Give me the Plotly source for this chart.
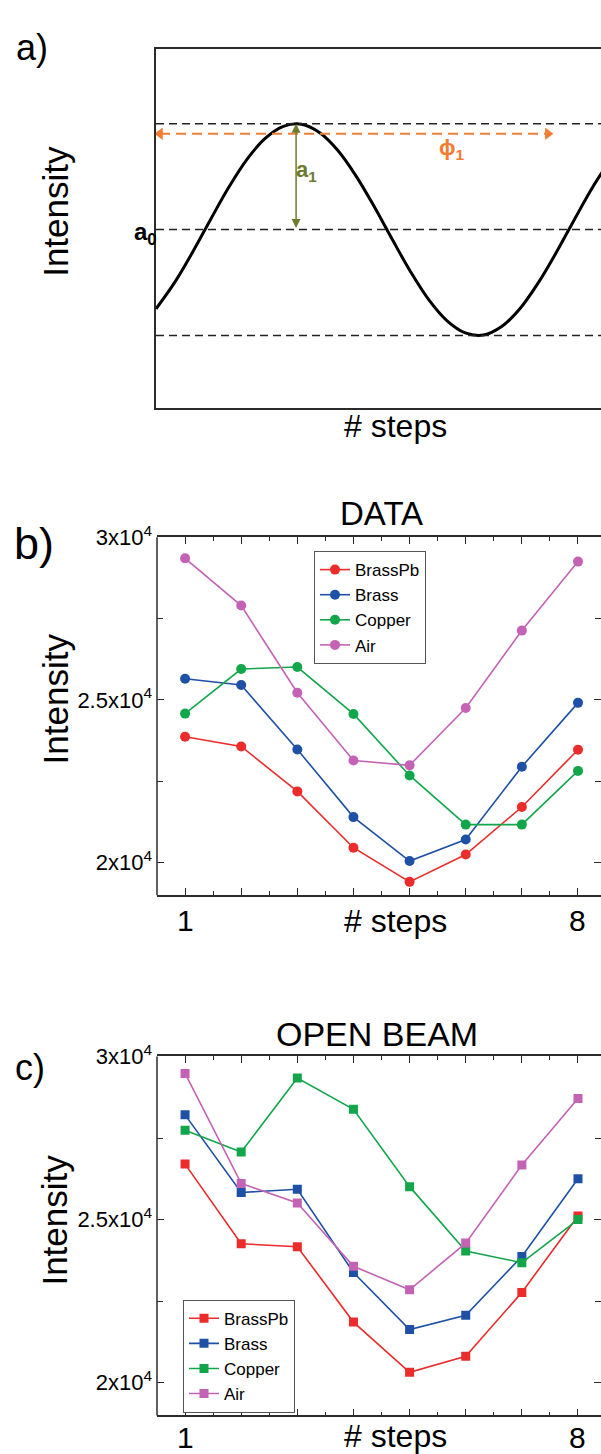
import plotly.graph_objects as go

FONT = "Liberation Sans, Arial, sans-serif"
W, H = 601, 1454

# ---------------- Panel a: schematic phase-stepping curve ----------------
a_steps = [0, 0.5, 1, 1.5, 2, 2.5, 3, 3.5, 4, 4.5, 5, 5.5, 6, 6.5, 7, 7.5, 8,
           8.5, 9, 9.5, 10, 10.5, 11, 11.5, 12, 12.5]
a_intensity = [0.626, 0.747, 0.892, 1.048, 1.200, 1.332, 1.431, 1.488, 1.498,
               1.458, 1.374, 1.253, 1.108, 0.952, 0.800, 0.668, 0.569, 0.512,
               0.502, 0.542, 0.626, 0.747, 0.892, 1.048, 1.200, 1.332]
a_levels = [1.5, 1.0, 0.5]          # maximum, a0 (mean), minimum
a_peak_step = 3.85                  # position of the a1 arrow
phi_steps = [0.11, 10.77]           # extent of the phi1 arrow
phi_level = [1.453, 1.453]

# ---------------- Panels b and c ----------------
steps = [1, 2, 3, 4, 5, 6, 7, 8]
series_names = ["BrassPb", "Brass", "Copper", "Air"]
series_colors = ["#EC2B2B", "#1E50A6", "#12A64B", "#C463B5"]

data_brasspb = [23870, 23570, 22190, 20460, 19410, 20250, 21710, 23470]
data_brass = [25650, 25460, 23480, 21400, 20050, 20710, 22950, 24910]
data_copper = [24580, 25950, 26010, 24570, 22680, 21170, 21170, 22820]
data_air = [29350, 27900, 25220, 23140, 22990, 24750, 27130, 29250]

open_brasspb = [26700, 24260, 24170, 21860, 20320, 20810, 22770, 25110]
open_brass = [28210, 25830, 25930, 23380, 21630, 22070, 23870, 26250]
open_copper = [27740, 27070, 29340, 28380, 26010, 24040, 23680, 25000]
open_air = [29480, 26110, 25510, 23570, 22850, 24280, 26670, 28710]

y_tickvals = [20000, 25000, 30000]
y_ticktext = ["2x10<sup>4</sup>", "2.5x10<sup>4</sup>", "3x10<sup>4</sup>"]
y_minor = [22500, 27500]
x_minor = [1.5, 2.5, 3.5, 4.5, 5.5, 6.5, 7.5]
x_labelled = [1, 8]


def px(x):
    return x / W


def py(y):
    return 1 - y / H


AX = "#2b2b2b"
fig = go.Figure()

# panel a traces
fig.add_trace(go.Scatter(x=a_steps, y=a_intensity, mode="lines", line=dict(color="black", width=3, shape="spline"),
                         xaxis="x", yaxis="y", showlegend=False, hoverinfo="skip"))
fig.add_trace(go.Scatter(x=phi_steps, y=phi_level, mode="lines+markers",
                         line=dict(color="#F47C32", width=2, dash="10px,6px"),
                         marker=dict(symbol=["triangle-left", "triangle-right"], size=11, color="#F47C32"),
                         xaxis="x", yaxis="y", showlegend=False, hoverinfo="skip"))

# panel b / c traces
b_sets = [data_brasspb, data_brass, data_copper, data_air]
c_sets = [open_brasspb, open_brass, open_copper, open_air]
for name, col, vals in zip(series_names, series_colors, b_sets):
    fig.add_trace(go.Scatter(x=steps, y=vals, name=name, mode="lines+markers",
                             line=dict(color=col, width=1.6), marker=dict(symbol="circle", size=10, color=col),
                             xaxis="x2", yaxis="y2", legend="legend"))
for name, col, vals in zip(series_names, series_colors, c_sets):
    fig.add_trace(go.Scatter(x=steps, y=vals, name=name, mode="lines+markers",
                             line=dict(color=col, width=1.6), marker=dict(symbol="square", size=9, color=col),
                             xaxis="x3", yaxis="y3", legend="legend2"))

common_x = dict(showline=True, mirror="ticks", linecolor=AX, linewidth=1.5, showgrid=False, zeroline=False,
                range=[0.5, 8.41], tickvals=steps, showticklabels=False, ticks="inside", ticklen=7,
                tickwidth=1.3, tickcolor=AX,
                minor=dict(tickvals=x_minor, ticks="inside", ticklen=4, tickwidth=1.2, tickcolor=AX))
common_y = dict(showline=False, mirror="ticks", showgrid=False, zeroline=False, range=[19000, 30000],
                tickvals=y_tickvals, ticktext=y_ticktext, ticks="inside", ticklen=7, tickwidth=1.3,
                tickcolor=AX, ticklabelstandoff=4, tickfont=dict(family=FONT, size=22, color="black"),
                minor=dict(tickvals=y_minor, ticks="inside", ticklen=6, tickwidth=1.2, tickcolor=AX))

legend_common = dict(xanchor="left", yanchor="top", bgcolor="white", bordercolor="#555", borderwidth=1,
                     font=dict(family=FONT, size=17, color="black"), tracegroupgap=0, itemwidth=30)

fig.update_layout(
    width=W, height=H, margin=dict(l=0, r=0, t=0, b=0),
    paper_bgcolor="white", plot_bgcolor="white",
    font=dict(family=FONT, color="black"),
    xaxis=dict(domain=[px(156), 1], range=[0, 12.23], showline=True, mirror=True, linecolor=AX, linewidth=1.5,
               showticklabels=False, ticks="", showgrid=False, zeroline=False, anchor="y"),
    yaxis=dict(domain=[py(396), py(33)], range=[0.159, 1.855], showline=True, mirror=False, linecolor=AX,
               linewidth=1.5, showticklabels=False, ticks="", showgrid=False, zeroline=False, anchor="x"),
    xaxis2=dict(domain=[px(157), 1], anchor="y2", **common_x),
    yaxis2=dict(domain=[py(889), py(527)], anchor="x2", **common_y),
    xaxis3=dict(domain=[px(157), 1], anchor="y3", **common_x),
    yaxis3=dict(domain=[py(1415), py(1052)], anchor="x3", **common_y),
    legend=dict(x=px(314), y=py(541), **legend_common),
    legend2=dict(x=px(183), y=py(1298), **legend_common),
)

shapes = []
for lvl in a_levels:
    shapes.append(dict(type="line", xref="x domain", x0=0, x1=1, yref="y", y0=lvl, y1=lvl,
                       line=dict(color="#222", width=1.5, dash="8px,5px")))
for xr, yr in (("x2", "y2"), ("x3", "y3")):
    shapes.append(dict(type="line", xref=xr + " domain", x0=0, x1=0, yref=yr + " domain", y0=0, y1=1,
                       line=dict(color=AX, width=1.5)))
fig.update_layout(shapes=shapes)

ann = []
# a1 double arrow
ann.append(dict(x=a_peak_step, y=a_levels[0], ax=a_peak_step, ay=a_levels[1], xref="x", yref="y",
                axref="x", ayref="y", text="", showarrow=True, arrowside="end+start", arrowhead=2,
                arrowsize=1.2, arrowwidth=1.5, arrowcolor="#6E7B2E", standoff=0, startstandoff=0))


def label(x, y, text, size, color="black", angle=0, xanchor="center"):
    ann.append(dict(x=px(x), y=py(y), xref="paper", yref="paper", text=text, showarrow=False,
                    font=dict(family=FONT, size=size, color=color), textangle=angle,
                    xanchor=xanchor, yanchor="middle"))


label(306, 157, "<b>a<sub>1</sub></b>", 22, "#6E7B2E")
label(452, 134, "<b>ϕ<sub>1</sub></b>", 22, "#F47C32")
label(145, 220, "<b>a<sub>0</sub></b>", 24)

label(32, 32, "a)", 36)
label(34, 533, "b)", 45)
label(30, 1063, "c)", 36)

label(56, 198, "Intensity", 35, angle=-90)
label(55, 691, "Intensity", 35, angle=-90)
label(55, 1218, "Intensity", 35, angle=-90)

label(395, 415, "# steps", 32)
label(395, 915, "# steps", 32)
label(395, 1436, "# steps", 32)

# x tick labels "1" and "8" placed on the data axes
for xr, ypix in (("x2", 915), ("x3", 1437)):
    for v in x_labelled:
        ann.append(dict(x=v, xref=xr, y=py(ypix), yref="paper", text=str(v), showarrow=False,
                        font=dict(family=FONT, size=30, color="black"), xanchor="center", yanchor="middle"))

label(381, 503, "DATA", 33)
label(377, 1029, "OPEN BEAM", 34)

fig.update_layout(annotations=ann)
fig.write_html("out.html", config={"displayModeBar": False},
               post_script="document.body.style.margin='0';")
